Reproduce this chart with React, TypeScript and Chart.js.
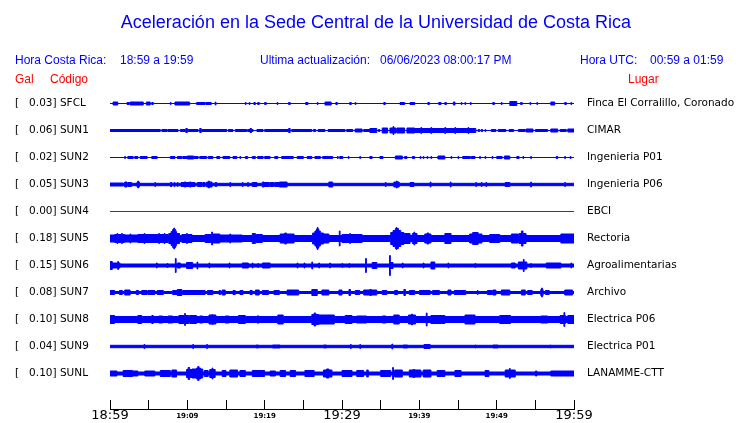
import React, { useEffect, useRef } from 'react';
import { Chart, registerables } from 'chart.js';

Chart.register(...registerables);

// ---------- data ----------
const TIME_LABELS = ['18:59', '19:09', '19:19', '19:29', '19:39', '19:49', '19:59'];
const GAL = ['0.03', '0.06', '0.02', '0.05', '0.00', '0.18', '0.15', '0.08', '0.10', '0.04', '0.10'];
const CODES = ['SFCL', 'SUN1', 'SUN2', 'SUN3', 'SUN4', 'SUN5', 'SUN6', 'SUN7', 'SUN8', 'SUN9', 'SUNL'];
const PLACES = ['Finca El Corralillo, Coronado', 'CIMAR', 'Ingenieria P01', 'Ingenieria P06', 'EBCI', 'Rectoria', 'Agroalimentarias', 'Archivo', 'Electrica P06', 'Electrica P01', 'LANAMME-CTT'];

// background half-amplitude of each trace (display counts)
const BASE = [0, 0, 0, 1.2, 0, 3, 1.5, 1, 3, 1.2, 1.5];

// bursts: [start minute, end minute, half-amplitude]
const SFCL = [[0.4,1.0,1.5],[2.2,2.5,1],[2.6,4.3,1.5],[4.7,5.2,1.5],[5.4,5.6,1],[7.8,7.9,1],[8.4,10.3,1.5],[11.2,12.3,1],[12.4,13.1,1],[13.6,13.7,1.5],[17.5,17.6,1],[18.0,18.1,1],[18.6,18.8,1],[19.1,19.3,1],[20.0,20.2,1],[21.6,21.7,1],[23.1,23.3,1],[25.3,25.6,1],[26.8,26.9,1],[27.8,28.6,1.5],[29.2,29.4,1],[31.0,31.2,1],[31.7,31.8,1],[35.4,35.6,1],[37.5,38.1,1],[38.8,39.4,1],[41.1,41.3,1],[42.5,42.8,1],[43.3,43.5,1],[44.4,44.6,1.5],[45.4,45.5,1],[45.9,46.0,1],[46.6,46.7,1],[49.5,49.7,1],[50.6,50.7,1],[51.7,52.6,2],[53.1,53.3,1],[54.3,54.4,1],[55.2,55.3,1],[57.0,57.5,1.5],[58.8,59.0,1],[59.6,59.7,1]];
const SUN1 = [[0,6.5,1],[6.7,7.4,1],[7.5,8.8,1],[9.1,9.7,1],[9.8,10.0,2],[10.1,11.4,1],[11.6,11.8,2],[11.9,15.1,1],[15.3,15.9,1],[16.2,17.7,1],[17.8,18.5,1],[18.1,18.3,2],[19.0,19.8,1],[20.0,23.3,1],[23.1,23.3,2],[23.5,26.1,1],[26.3,26.6,1],[26.9,27.8,1],[28.2,30.4,1],[30.6,31.4,1],[31.7,32.6,1.5],[32.8,33.6,1],[33.6,34.5,2],[34.7,34.9,1],[35.2,35.9,2.5],[36.2,37.0,2.5],[36.6,36.7,4],[37.1,38.1,2.5],[38.4,39.4,2.5],[39.4,40.1,2],[40.1,47.3,2],[40.2,40.3,3],[41.5,41.6,3],[43.3,43.4,3],[44.6,44.7,3],[46.3,46.4,3],[47.6,47.8,1],[48.0,48.2,1],[48.5,48.6,1],[49.3,49.9,1],[50.2,51.2,1],[51.6,52.2,1],[52.8,53.7,1],[53.8,54.7,1.5],[55.0,56.6,1],[57.0,57.9,1.5],[58.2,59.0,1],[59.2,60,1.5]];
const SUN2 = [[1.9,2.0,1],[2.3,3.0,1],[3.2,3.6,1],[3.9,4.8,1],[5.4,6.1,1],[7.8,8.4,1],[8.7,9.3,1],[9.4,11.4,1],[10.0,10.8,1.5],[11.6,12.5,1],[12.7,13.3,1],[13.8,14.2,1],[14.6,15.5,1],[15.9,16.4,1],[16.8,16.9,1],[17.5,17.8,1],[18.4,18.8,1],[19.1,19.8,1],[20.0,20.7,1],[21.3,21.7,1],[22.2,23.7,1],[24.2,25.0,1],[25.5,26.1,1],[26.5,27.2,1],[27.5,28.8,1],[29.4,29.5,1],[29.7,30.1,1],[30.8,30.9,1],[32.3,32.4,1],[33.6,33.9,1],[34.9,35.3,1],[36.9,37.8,1.5],[38.1,38.4,1],[39.1,39.4,1],[40.1,40.2,1],[40.5,40.6,1],[41.0,41.1,1],[41.5,41.6,1],[42.4,43.3,1.5],[44.1,44.2,1],[45.0,45.1,1],[45.6,46.6,1],[46.7,47.2,1],[47.8,47.9,1],[48.5,48.6,1],[49.4,49.5,1],[50.0,50.7,1],[51.0,51.7,1.5],[52.6,52.9,1],[53.4,53.5,1],[54.4,54.5,1],[57.7,57.9,1],[58.8,58.9,1],[59.5,59.6,1]];
const SUN3 = [[0,1.7,1.5],[1.9,2.2,2.5],[2.3,2.8,2],[3.6,3.7,3.5],[3.5,3.8,2.5],[5.8,5.9,2],[7.8,8.0,2],[8.3,8.4,2],[8.7,8.8,2],[9.2,11.0,2],[9.6,9.8,2.5],[10.3,10.5,2.5],[11.3,11.9,2],[12.0,12.3,2],[12.5,13.2,2.5],[12.75,12.85,3.5],[13.6,13.8,2],[15.5,15.6,2],[17.1,17.2,2],[17.8,17.9,2],[18.4,19.0,2],[19.7,19.9,2.5],[19.9,20.6,2],[20.7,21.2,2],[21.3,21.9,2],[21.9,22.9,2.5],[28.3,28.8,2.5],[35.6,35.7,2],[36.7,37.4,2.5],[37.05,37.15,3.5],[38.8,39.3,2],[41.4,41.5,2.5],[44.0,44.1,2.5],[47.3,47.4,2],[48.0,48.1,2],[48.6,48.7,2],[51.1,51.7,2],[54.4,54.5,2.5],[58.8,58.9,2]];
const SUN4 = [];
const SUN5 = [[0,0.6,3.5],[0.6,1.9,4],[0.9,1.0,5],[1.5,1.6,5],[1.9,3.6,3.5],[2.6,2.7,4.5],[3.6,5.8,4],[4.4,4.5,5],[5.8,7.5,4],[6.3,6.4,5],[7.0,7.1,5],[7.6,9.0,5],[7.9,8.6,7],[8.1,8.5,9],[8.25,8.35,10.5],[9.3,10.6,4],[9.9,10.0,5],[12.3,13.1,4],[13.15,13.25,6.5],[13.3,14.2,4.5],[14.2,17.1,3.5],[15.5,15.6,4.5],[18.4,18.8,5],[18.8,19.7,4],[22.0,23.8,4.5],[22.6,22.8,5.5],[26.2,27.6,5.5],[26.5,27.2,7.5],[26.7,27.0,9.5],[26.8,26.9,11],[27.6,28.3,4.5],[29.65,29.75,7.5],[30.0,32.6,4],[31.0,31.1,5],[36.3,38.0,6],[36.6,37.6,8],[36.9,37.3,10],[37.0,37.1,11],[38.0,38.8,5],[39.1,39.7,5],[39.3,39.4,6.5],[40.7,41.5,4.5],[41.0,41.2,5.5],[43.3,44.1,5],[46.5,48.1,4.5],[46.9,47.6,6],[49.1,50.4,4],[51.9,52.8,4.5],[52.9,53.8,5],[53.2,53.4,7.5],[58.3,60,4.5]];
const SUN6 = [[0,0.3,4],[0.3,1.3,2.5],[1.0,1.1,4],[6.0,6.1,2.5],[7.4,7.5,2],[8.45,8.55,7],[8.7,9.1,2.5],[9.9,10.7,3],[11.25,11.35,3.5],[12.8,12.9,2.5],[15.4,15.5,2.5],[17.1,17.9,2.5],[18.4,18.5,2.5],[19.1,19.2,2],[19.7,20.7,2.5],[24.2,24.3,2.5],[25.1,25.2,2.5],[26.1,26.2,3.5],[27.0,27.1,2.5],[28.4,28.5,2.5],[30.0,30.1,2],[30.9,31.0,2],[33.05,33.15,7],[33.9,34.5,3],[36.15,36.25,10],[36.3,36.6,3],[37.8,37.9,2.5],[40.5,40.6,2.5],[41.5,42.0,3.5],[43.7,43.8,2.5],[47.2,47.3,2],[51.9,52.4,2.5],[52.8,53.9,3.5],[53.45,53.55,6],[54.4,54.5,2],[56.4,58.3,2.5],[59.6,59.7,2.5]];
const SUN7 = [[0,0.6,2],[1.2,1.6,2],[1.9,2.6,2.5],[3.4,3.7,2],[4.1,4.8,2],[4.9,5.8,2],[6.1,6.9,2],[8.1,8.7,2],[8.7,9.3,3],[9.4,12.3,2],[12.6,13.3,2],[14.1,14.3,2],[14.5,14.9,2.5],[15.9,16.2,2],[16.8,17.2,2],[18.1,18.4,2],[18.8,19.3,2.5],[19.7,20.5,2],[21.2,21.9,2],[22.9,24.4,2.5],[26.1,26.8,3],[27.4,28.3,2.5],[29.6,30.0,2.5],[30.9,31.1,3],[31.7,32.3,2],[32.8,34.5,2.5],[33.6,33.8,3],[35.2,35.8,2],[36.8,37.2,2],[38.0,38.2,3],[38.7,39.4,2],[40.0,41.4,2],[41.7,42.6,2],[43.7,44.1,2.5],[44.5,46.0,2],[47.5,47.6,2],[48.8,49.4,2],[49.5,49.9,2.5],[50.6,51.7,2.5],[53.2,53.7,2.5],[54.0,54.6,2],[55.8,55.9,4.5],[55.7,56.0,3],[56.3,56.8,2],[58.8,59.8,2.5]];
const SUN8 = [[0,0.6,4],[3.6,4.1,4],[5.4,5.6,4],[6.3,6.8,3.5],[7.5,8.1,3.5],[8.9,10.2,4],[9.65,9.75,6],[10.3,11.2,4],[11.6,12.0,3.5],[12.8,13.7,4.5],[13.2,13.3,5],[14.9,15.4,3.5],[16.6,17.5,4],[19.0,19.3,3.5],[21.7,22.4,4.5],[26.1,27.0,5],[26.4,26.6,6.5],[27.0,29.0,4.5],[30.4,31.3,4],[31.9,33.2,3.5],[35.2,35.7,3.5],[36.7,37.4,4.5],[38.6,39.5,4.5],[39.0,39.1,5.5],[40.9,41.0,6.5],[41.5,43.3,4],[45.9,47.2,4.5],[50.4,51.8,4],[55.7,56.6,3.5],[58.2,58.9,4],[58.7,58.8,7],[59.2,60,4]];
const SUN9 = [[4.4,4.5,2],[10.7,10.8,2],[12.5,12.6,2],[18.9,19.2,1.5],[21.0,22.0,1.5],[27.6,28.0,1.5],[31.1,31.2,2],[32.3,32.4,2],[36.45,36.55,2.5],[37.9,38.5,1.5],[40.6,41.4,2],[47.2,47.3,1.5],[49.5,50.2,1.5],[56.9,57.0,1.5]];
const SUNL = [[0,0.9,2.5],[1.7,2.9,3],[2.9,3.6,2.5],[4.5,5.8,2.5],[6.5,7.8,3],[8.0,8.6,3.5],[9.9,10.6,4],[10.1,10.3,6],[10.6,12.0,4.5],[11.2,11.7,5.5],[11.35,11.5,7],[12.2,12.7,3],[12.9,13.6,4],[13.2,13.3,5.5],[14.5,15.0,3],[15.5,16.5,3.5],[16.8,17.5,3],[18.4,20.0,3],[20.7,21.4,2.5],[22.0,22.7,3],[23.3,24.0,3],[25.2,26.4,3],[27.6,28.7,3.5],[28.0,28.3,4.5],[30.0,31.3,3],[31.9,32.8,3],[33.2,33.4,3.5],[35.0,36.3,3],[36.55,36.65,6],[36.8,37.8,3.5],[38.7,40.2,3.5],[39.2,39.4,4],[40.5,41.5,3.5],[42.3,43.3,3],[44.6,45.4,3],[48.5,49.0,3],[51.1,52.4,3.5],[51.65,51.75,5],[55.0,55.2,2.5],[57.0,60,2.5]];

const BURSTS = [SFCL, SUN1, SUN2, SUN3, SUN4, SUN5, SUN6, SUN7, SUN8, SUN9, SUNL];

const COUNTS_PER_ROW = 27;
const SPAN_MIN = 60;

function envelope(base: number, bursts: number[][]) {
  const set = new Set<number>([0, SPAN_MIN]);
  bursts.forEach(([a, b]) => { set.add(a); set.add(b); });
  const xs = Array.from(set).sort((a, b) => a - b);
  const out: { x: number; h: number }[] = [];
  for (let i = 0; i < xs.length - 1; i++) {
    const mid = (xs[i] + xs[i + 1]) / 2;
    let h = base;
    for (const [s, e, v] of bursts) if (mid >= s && mid < e) h = Math.max(h, v);
    out.push({ x: xs[i], h });
  }
  out.push({ x: SPAN_MIN, h: out[out.length - 1].h });
  return out;
}

const BLUE = '#0000ff';
const RED_LINE = '#dd0000';
const Y_MIN = -0.5;
const Y_MAX = 319 / 27 - 0.5;

export default function App() {
  const ref = useRef<HTMLCanvasElement>(null);

  useEffect(() => {
    if (!ref.current) return;
    const datasets: any[] = [];
    BURSTS.forEach((b, i) => {
      const env = envelope(BASE[i], b);
      const color = i === 4 ? RED_LINE : BLUE;
      const common = {
        borderColor: color,
        backgroundColor: color,
        borderWidth: 1,
        pointRadius: 0,
        stepped: true,
        tension: 0,
        yAxisID: 'y',
        xAxisID: 'x',
      };
      datasets.push({ ...common, data: env.map(p => ({ x: p.x, y: i - p.h / COUNTS_PER_ROW })), fill: false });
      datasets.push({ ...common, data: env.map(p => ({ x: p.x, y: i + p.h / COUNTS_PER_ROW })), fill: '-1' });
    });
    const rowTicks = (scale: any) => { scale.ticks = CODES.map((_, i) => ({ value: i })); };
    const labelFont = { family: 'DejaVu Sans', size: 10.5 };
    const chart = new Chart(ref.current, {
      type: 'line',
      data: { datasets },
      options: {
        animation: false,
        responsive: false,
        maintainAspectRatio: false,
        devicePixelRatio: 1,
        events: [],
        layout: { padding: { top: 90, left: 15, right: 0, bottom: 0 } },
        plugins: { legend: { display: false }, tooltip: { enabled: false }, title: { display: false } },
        scales: {
          x: {
            type: 'linear',
            min: 0,
            max: SPAN_MIN,
            position: 'bottom',
            border: { display: true, color: '#000', width: 1 },
            grid: { display: true, drawOnChartArea: false, drawTicks: true, tickLength: -9, color: '#000', lineWidth: 1 },
            ticks: {
              stepSize: 5,
              autoSkip: false,
              maxRotation: 0,
              crossAlign: 'near',
              padding: 8,
              color: '#000',
              callback: (v: any) => (Number(v) % 10 === 0 ? TIME_LABELS[Number(v) / 10] : ''),
              font: (ctx: any) => {
                const v = ctx.tick ? ctx.tick.value : 0;
                return v % 30 === 0
                  ? { family: 'DejaVu Sans', size: 13, lineHeight: 1.2 }
                  : { family: 'DejaVu Sans', size: 7, weight: 'bold', lineHeight: 15.6 / 7 };
              },
            },
            afterFit: (s: any) => { s.height = 14; },
          },
          y: {
            type: 'linear',
            position: 'left',
            reverse: true,
            min: Y_MIN,
            max: Y_MAX,
            grid: { display: false, drawTicks: false },
            border: { display: false },
            afterBuildTicks: rowTicks,
            ticks: {
              autoSkip: false,
              crossAlign: 'far',
              padding: 0,
              color: '#000',
              font: labelFont,
              callback: (_v: any, i: number) => `[   ${GAL[i]}] ${CODES[i]}`,
            },
            afterFit: (s: any) => { s.width = 95; },
          },
          y2: {
            type: 'linear',
            display: true,
            position: 'right',
            reverse: true,
            min: Y_MIN,
            max: Y_MAX,
            grid: { display: false, drawTicks: true, tickLength: 13 },
            border: { display: false },
            afterBuildTicks: rowTicks,
            ticks: {
              autoSkip: false,
              crossAlign: 'near',
              padding: 0,
              color: '#000',
              font: labelFont,
              callback: (_v: any, i: number) => PLACES[i],
            },
            afterFit: (s: any) => { s.width = 166; },
          },
        },
      },
    } as any);
    return () => chart.destroy();
  }, []);

  const txt = (left: number, top: number, size: number, color: string, s: string) => (
    <span style={{ position: 'absolute', left, top, fontSize: size, lineHeight: 1, color, whiteSpace: 'pre', fontFamily: '"Liberation Sans", Arial, sans-serif' }}>{s}</span>
  );

  return (
    <div style={{ position: 'fixed', left: 0, top: 0, width: 740, height: 423, background: '#fff', overflow: 'hidden' }}>
      <canvas ref={ref} width={740} height={423} style={{ position: 'absolute', left: 0, top: 0, width: 740, height: 423 }} />
      <div style={{ position: 'absolute', left: 0, top: 13, width: 752, textAlign: 'center', fontSize: 18, lineHeight: 1, color: BLUE, fontFamily: '"Liberation Sans", Arial, sans-serif', whiteSpace: 'pre' }}>
        Aceleración en la Sede Central de la Universidad de Costa Rica
      </div>
      {txt(15, 54, 12, BLUE, 'Hora Costa Rica:')}
      {txt(120, 54, 12, BLUE, '18:59 a 19:59')}
      {txt(260, 54, 12, BLUE, 'Ultima actualización:')}
      {txt(380, 54, 12, BLUE, '06/06/2023 08:00:17 PM')}
      {txt(580, 54, 12, BLUE, 'Hora UTC:')}
      {txt(650, 54, 12, BLUE, '00:59 a 01:59')}
      {txt(15, 73, 12, '#ff0000', 'Gal')}
      {txt(50, 73, 12, '#ff0000', 'Código')}
      {txt(628, 73, 12, '#ff0000', 'Lugar')}
    </div>
  );
}
